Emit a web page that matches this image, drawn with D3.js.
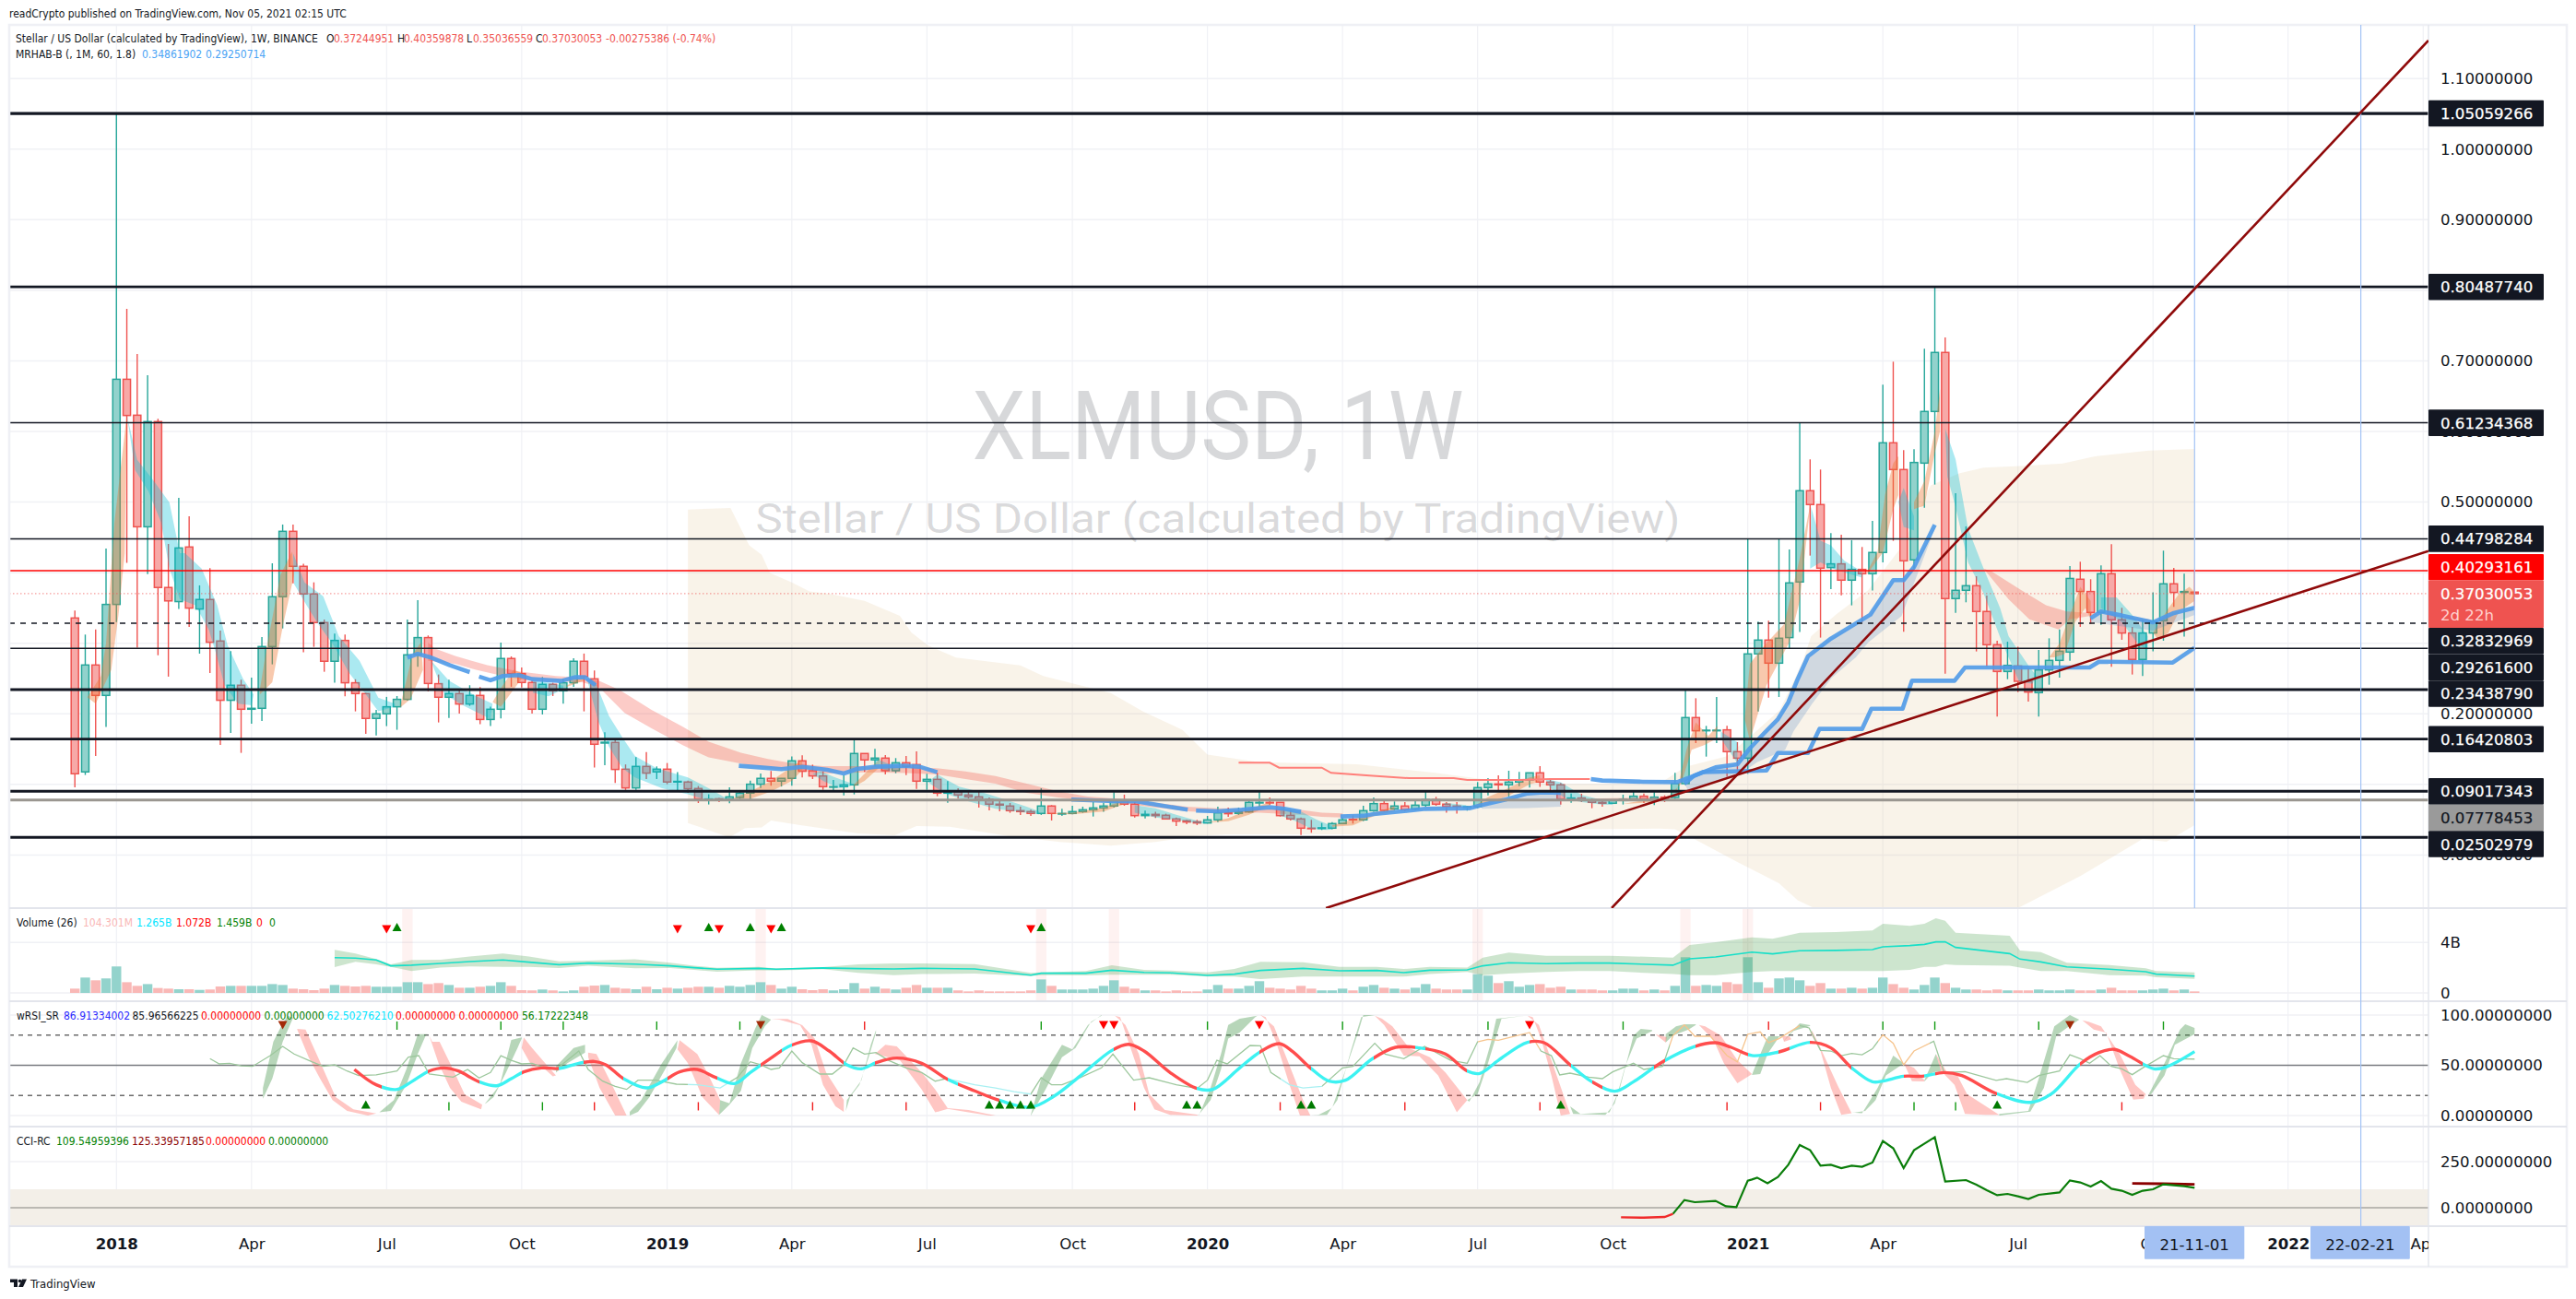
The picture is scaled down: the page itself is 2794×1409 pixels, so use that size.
<!DOCTYPE html>
<html><head><meta charset="utf-8"><title>XLMUSD</title>
<style>html,body{margin:0;background:#fff;overflow:hidden}svg{display:block}</style>
<script src="https://cdn.jsdelivr.net/npm/d3@7/dist/d3.min.js"></script></head><body>
<script>
/* ---------- weekly candles, index 0 = 2017-12-04 ---------- */
const open=[.3358,.1177,.2692,.2261,.3550,.6740,.6231,.4650,.6140,.3790,
.3590,.4364,.3485,.3620,.3032,.2192,.2405,.2065,.2078,.2953,
.3659,.4586,.4090,.3698,.3293,.2745,.3040,.2440,.2287,.1935,
.2000,.2100,.2205,.2836,.3080,.2427,.2235,.2287,.2139,.2261,
.1920,.2065,.2784,.2570,.2444,.2065,.2418,.2326,.2440,.2745,
.2496,.1586,.1595,.1216,.0950,.1255,.1177,.1216,.1034,.1034,
.0942,.0790,.0796,.0794,.0816,.0877,.1003,.1086,.1047,.1086,
.1334,.1194,.1120,.0966,.0968,.0994,.1438,.1347,.1373,.1194,
.1307,.1281,.1046,.1072,.0876,.0898,.0850,.0824,.0789,.0720,
.0694,.0628,.0615,.0589,.0694,.0580,.0589,.0615,.0641,.0667,
.0694,.0767,.0720,.0558,.0576,.0563,.0511,.0485,.0471,.0454,
.0498,.0598,.0589,.0611,.0737,.0746,.0746,.0563,.0511,.0380,
.0375,.0380,.0445,.0506,.0498,.0628,.0728,.0654,.0694,.0650,
.0706,.0785,.0720,.0694,.0672,.0685,.0955,.1007,.0994,.1033,
.1064,.1164,.1033,.0994,.0794,.0807,.0772,.0746,.0733,.0772,
.0789,.0833,.0789,.0820,.0815,.1011,.1947,.1760,.1760,.1773,
.1464,.1372,.2849,.3045,.2718,.3080,.3868,.5161,.4965,.4072,
.4125,.3894,.4046,.3985,.4286,.5840,.5461,.4181,.5552,.6284,
.7120,.3633,.3750,.3815,.3450,.2979,.2600,.2678,.2461,.2300,
.2622,.2757,.2875,.3907,.3733,.3437,.3985,.3332,.3145,.2771,
.3145,.3319,.3842,.3720,.37244951];
const close=[.1151,.2692,.2261,.3550,.6740,.6227,.4650,.6140,.3790,.3600,
.4350,.3498,.3620,.3014,.2192,.2405,.2065,.2078,.2953,.3659,
.4586,.4090,.3698,.3293,.2745,.3040,.2440,.2287,.1935,.2000,
.2100,.2205,.2836,.3080,.2430,.2235,.2287,.2139,.2261,.1920,
.2065,.2784,.2570,.2444,.2065,.2418,.2326,.2440,.2745,.2527,
.1569,.1598,.1212,.0950,.1255,.1160,.1216,.1034,.1043,.0938,
.0794,.0794,.0790,.0824,.0877,.1003,.1086,.1047,.1086,.1334,
.1186,.1120,.0968,.0968,.0994,.1438,.1347,.1373,.1194,.1307,
.1255,.1046,.1072,.0876,.0898,.0850,.0824,.0789,.0720,.0707,
.0628,.0615,.0589,.0694,.0589,.0589,.0615,.0641,.0667,.0694,
.0767,.0720,.0558,.0576,.0558,.0511,.0480,.0467,.0454,.0498,
.0598,.0585,.0611,.0746,.0746,.0737,.0558,.0511,.0380,.0375,
.0385,.0445,.0498,.0498,.0628,.0728,.0632,.0694,.0641,.0706,
.0785,.0720,.0685,.0685,.0685,.0955,.1007,.0994,.1033,.1064,
.1164,.1033,.0994,.0794,.0807,.0772,.0746,.0733,.0772,.0789,
.0833,.0789,.0820,.0802,.1011,.1947,.1760,.1768,.1768,.1464,
.1372,.2849,.3045,.2718,.3071,.3855,.5161,.4965,.4064,.4125,
.3894,.4046,.3985,.4286,.5840,.5461,.4168,.5561,.6284,.7120,
.3633,.3750,.3815,.3450,.2979,.2600,.2687,.2461,.2308,.2622,
.2757,.2887,.3918,.3733,.3437,.3985,.3332,.3145,.2771,.3145,
.3310,.3842,.3720,.3733,.37030053];
const high=[.3463,.3123,.3197,.4342,1.0505,.7738,.7098,.6797,.6180,.4407,
.5060,.4799,.3820,.4064,.3180,.2890,.2483,.2514,.3088,.4133,
.4682,.4682,.4125,.3863,.3336,.3136,.3123,.2490,.2296,.2056,
.2240,.2252,.3337,.3610,.3110,.2557,.2483,.2340,.2405,.2379,
.2100,.3010,.2814,.2657,.2470,.2522,.2440,.2492,.2788,.2854,
.2614,.1740,.1635,.1283,.1387,.1457,.1255,.1303,.1174,.1055,
.0977,.0860,.0810,.0959,.0920,.1055,.1155,.1190,.1090,.1395,
.1412,.1280,.1185,.1064,.1133,.1643,.1438,.1503,.1416,.1373,
.1403,.1468,.1151,.1164,.1046,.0946,.0902,.0902,.0815,.0785,
.0737,.0685,.0641,.0946,.0706,.0654,.0698,.0685,.0750,.0741,
.0889,.0855,.0750,.0628,.0611,.0585,.0532,.0498,.0498,.0554,
.0685,.0672,.0672,.0785,.0902,.0815,.0746,.0641,.0532,.0498,
.0454,.0467,.0532,.0563,.0698,.0815,.0772,.0759,.0750,.0772,
.0894,.0824,.0750,.0750,.0695,.1033,.1089,.1129,.1194,.1177,
.1164,.1259,.1068,.1020,.0872,.0867,.0800,.0781,.0790,.0855,
.0902,.0872,.0889,.0845,.1164,.2348,.2221,.1829,.2239,.1829,
.1599,.4482,.3306,.3319,.4482,.4329,.6118,.5605,.5461,.4560,
.4538,.4460,.4364,.4734,.6663,.6989,.5735,.5748,.7172,.8043,
.7333,.5126,.4656,.3950,.3676,.3035,.3022,.2950,.2643,.2905,
.3070,.3197,.4094,.4155,.3907,.4103,.4403,.3502,.3230,.3332,
.3720,.4312,.4068,.3985,.40359878];
const low=[.0960,.1134,.1404,.1813,.3300,.4138,.2936,.3980,.2830,.2527,
.3485,.3232,.2853,.2579,.1560,.1730,.1447,.1860,.1900,.2701,
.3210,.3850,.2871,.2949,.2596,.2440,.2250,.2035,.1717,.1695,
.1826,.1774,.2187,.2666,.2318,.1878,.1940,.2004,.2113,.1852,
.1826,.1935,.2384,.2374,.2004,.1991,.2253,.2144,.2383,.2035,
.1238,.1273,.1020,.0922,.0922,.1077,.1077,.1003,.0920,.0880,
.0737,.0716,.0750,.0733,.0794,.0790,.0950,.0980,.0970,.0980,
.1100,.1076,.0924,.0902,.0846,.0859,.1177,.1251,.1142,.1159,
.1133,.0937,.0924,.0833,.0741,.0802,.0802,.0672,.0633,.0620,
.0598,.0568,.0554,.0568,.0489,.0554,.0576,.0598,.0545,.0611,
.0672,.0698,.0532,.0519,.0524,.0502,.0410,.0437,.0424,.0446,
.0467,.0541,.0568,.0598,.0685,.0706,.0545,.0489,.0284,.0315,
.0354,.0363,.0437,.0445,.0480,.0611,.0611,.0637,.0620,.0633,
.0685,.0698,.0598,.0585,.0628,.0663,.0846,.0902,.0829,.0976,
.0955,.0964,.0915,.0715,.0741,.0750,.0663,.0685,.0724,.0715,
.0772,.0737,.0706,.0750,.0794,.0990,.1586,.1394,.1586,.1110,
.1185,.1150,.2034,.2230,.2239,.2927,.3158,.4242,.3080,.3767,
.3680,.3537,.3297,.3746,.4146,.4451,.3162,.4059,.4921,.5248,
.2570,.3432,.3580,.2884,.2665,.1960,.2491,.2308,.2173,.1960,
.2413,.2513,.2752,.3232,.3275,.3262,.2666,.3049,.2557,.2535,
.2884,.3036,.3515,.3093,.35036559];
const volume=[.34,1.22,1.0,1.15,2.1,.85,.56,.7,.39,.34,
.29,.29,.24,.27,.51,.56,.56,.56,.56,.7,
.63,.34,.29,.22,.34,.63,.56,.51,.56,.49,
.49,.49,.85,.85,.7,.78,.63,.41,.41,.49,
.56,.85,.56,.22,.2,.27,.2,.12,.2,.49,
.58,.63,.41,.34,.29,.49,.29,.41,.34,.41,
.49,.49,.41,.56,.49,.63,.85,.63,.34,.49,
.29,.22,.29,.2,.29,.78,.34,.49,.34,.27,
.41,.63,.41,.41,.41,.2,.12,.2,.12,.12,
.12,.12,.2,1.07,.56,.27,.27,.27,.34,.56,
1.0,.49,.34,.2,.2,.12,.2,.12,.12,.27,
.63,.34,.34,.56,.93,.41,.34,.27,.56,.34,
.2,.2,.34,.2,.49,.63,.41,.34,.27,.41,
.7,.34,.27,.27,.27,1.49,1.37,.78,.93,.49,
.63,.7,.41,.49,.27,.27,.27,.2,.2,.34,
.34,.2,.27,.2,.56,2.83,.56,.63,.56,.85,
.7,2.83,.85,.41,1.15,1.22,1.0,.56,.78,.34,
.34,.41,.34,.41,1.22,.7,.41,.27,.63,1.22,
.78,.41,.27,.27,.2,.27,.2,.2,.2,.27,
.2,.2,.27,.2,.2,.27,.41,.2,.2,.2,
.27,.34,.2,.27,.12];

/* ---------- price levels ---------- */
const levelValues=[1.05059266,.8048774,.61234368,.44798284,.40293161,.32832969,.292616,.2343879,.16420803,.09017343,.07778453,.02502979];
const levelWidths=[3.2,2.8,1.5,1.5,1.5,1.5,1.5,3,2.8,3,3,3];
const levelColors=['#131722','#131722','#131722','#131722','#ff0000','#131722','#131722','#131722','#131722','#131722','#9a9690','#131722'];
const priceTicks=[0,.1,.2,.3,.4,.5,.6,.7,.8,.9,1,1.1];
const priceTickLabels=[0,.1,.2,.5,.6,.7,.9,1,1.1];
const lastPrice=.37030053;
const trendSteep=[[147.9,-.0752],[226.5,1.1539]];
const trendShallow=[[120.4,-.0752],[226.5,.4306]];

/* ---------- time axis ---------- */
const timeTickIdx=[4,17,30,43,57,69,82,96,109,122,135,148,161,174,187,200,213,226];
const timeTickText=['2018','Apr','Jul','Oct','2019','Apr','Jul','Oct','2020','Apr','Jul','Oct','2021','Apr','Jul','Oct','2022','Apr'];
const markerLines=[204,220];

/* ---------- cloud around price ---------- */
const cloudUpper=[[59,.4894],[63.1,.4917],[64.9,.4386],[66.1,.4255],[66.9,.3994],[69,.3863],[70.7,.3733],[72.7,.3698],[76,.36],[79.4,.3387],[80.5,.3153],[82.1,.297],[84.8,.2796],[91,.2687],[93.2,.2535],[99.7,.2295],[102.8,.2034],[106.6,.1773],[109,.1424],[114,.1316],[123.4,.1285],[130.9,.1163],[135.9,.1067],[142,.101],[152.5,.101],[155,.125],[159,.14],[161.3,.1686],[164.1,.2056],[165.5,.2491],[166.3,.2753],[167.1,.31],[169.5,.3409],[172.6,.3755],[175.8,.4364],[178.6,.5235],[181.4,.5409],[183.7,.5487],[187.7,.5513],[191.3,.5548],[194.4,.5648],[199.6,.5731],[204,.5752]];
const cloudLower=[[59,.0454],[63,.0249],[64.5,.038],[66.1,.039],[67,.0489],[69.8,.0423],[75.4,.0306],[78.9,.028],[81,.041],[84.2,.0401],[89.8,.027],[94.8,.0184],[99.7,.0132],[104,.0184],[107.8,.027],[110.9,.0293],[117.2,.0293],[123.4,.0293],[134.6,.0314],[142,.0358],[152.5,.0375],[154,.0366],[155.3,.027],[160,-.01],[164,-.04],[165.8,-.064],[167.4,-.0752],[172,-.1],[180,-.11],[187,-.0752],[193,-.03],[199,.0227],[201.3,.0188],[204,.0423]];

/* ---------- ribbons: each entry is [upper edge, lower edge] ---------- */
const ribbonOrange=[
[[[1.2,.2235],[2.5,.2536],[3,.3],[3.8,.47],[5,.6237]],[[2,.2144],[3.5,.2622],[4.2,.3406],[4.8,.4277],[5,.6237]]],
[[[17.8,.234],[18.5,.2971],[19.8,.3972],[20.9,.4299]],[[17.8,.2274],[19,.2448],[20,.3232],[21.1,.3972]]],
[[[31.5,.223],[32.5,.284],[33.3,.3014]],[[31.3,.2087],[32.3,.2209],[33.5,.2623]]],
[[[40.2,.2166],[41,.2362],[42.2,.2623],[43,.258]],[[41,.21],[42.2,.234],[43.2,.2536]]],
[[[47.3,.24],[49,.2536]],[[47.3,.238],[49,.247]]],
[[[63.2,.0794],[65,.09],[67,.105],[69,.125],[70,.135]],[[63.2,.0794],[65,.0794],[67,.09],[69,.105],[70,.12]]],
[[[75,.1],[76,.115],[77.5,.137]],[[75,.097],[76,.105],[77.5,.125]]],
[[[93,.0585],[96,.0598],[99,.0672],[101,.078]],[[93,.0585],[96,.0576],[99,.0615],[101,.072]]],
[[[109,.046],[111,.052],[113,.065],[115,.075]],[[109,.046],[111,.048],[113,.057],[115,.07]]],
[[[121,.042],[123,.05],[125,.06],[127,.069]],[[121,.04],[123,.042],[125,.055],[127,.062]]],
[[[134.5,.0672],[136,.082],[138,.095],[140,.11],[141,.113]],[[134.5,.0672],[136,.0715],[138,.084],[140,.1],[141,.104]]],
[[[149,.0725],[151,.0775],[153,.08],[154.2,.0924],[155.1,.149],[156,.1881],[157.2,.1686],[158.1,.183]],[[149,.0725],[151,.074],[153,.078],[154.6,.101],[155.6,.149],[156.8,.1555],[157.9,.1642]]],
[[[160.7,.1925],[161.2,.2709],[162.6,.297],[164.5,.327],[166,.42],[167,.4952]],[[161.2,.162],[162.8,.2404],[163.9,.271],[165,.3013],[166,.36],[167,.493]]],
[[[172.5,.4016],[173.5,.43],[174.2,.51],[175,.555],[175.5,.565]],[[172.5,.398],[174,.4286],[175,.49],[175.5,.51]]],
[[[177,.5],[178,.53],[179,.6],[179.5,.66]],[[177,.49],[178,.495],[179,.57],[179.5,.6]]],
[[[190,.28],[191,.3],[192,.34],[193,.38],[194,.36]],[[190.5,.28],[191.5,.285],[192.5,.33],[193.5,.35],[194,.335]]],
[[[200,.315],[201.5,.35],[202.5,.37],[203.5,.38],[204,.3725]],[[200.5,.305],[201.5,.315],[202.5,.345],[203.5,.355],[204,.36]]]
];
const ribbonCyan=[
[[[5,.6237],[6,.56],[7.6,.53],[9.1,.4995],[10.1,.4277],[10.6,.4277],[12.2,.4059],[13.7,.3537],[14.7,.2971],[16.2,.2492],[17.2,.2274]],[[5,.6237],[5.8,.5452],[7.1,.5148],[8.3,.4712],[9.1,.4059],[10.1,.3624],[11.6,.3537],[12.9,.3189],[13.7,.2797],[14.4,.2405],[15.7,.2144],[17,.2122]]],
[[[21,.4277],[22.1,.3863],[23.9,.3667],[25.4,.31],[27.4,.2753],[29.2,.223],[30.8,.2144]],[[21.1,.384],[22.3,.3537],[23.4,.3276],[24.9,.2971],[26.4,.2579],[28,.2274],[29.2,.2035],[30.8,.21]]],
[[[34.3,.2753],[36,.247],[38.6,.2253],[40.2,.2144]],[[34.6,.2623],[35.6,.2274],[37.6,.21],[40,.1926]]],
[[[44.1,.247],[45.6,.244],[47,.24]],[[44.1,.2296],[45.6,.2248],[47,.235]]],
[[[49.3,.2492],[50.1,.245],[51.4,.197],[52.7,.1665],[53.9,.1404],[56,.123],[59,.11],[61,.0947],[62.8,.0794]],[[49.6,.2318],[50.4,.1883],[51.4,.1534],[52.7,.123],[53.9,.11],[56.5,.0947],[59,.086],[61,.0772],[62.8,.0794]]],
[[[71.8,.1185],[73,.111],[75,.1]],[[71,.115],[72,.105],[73.5,.095],[74.5,.097]]],
[[[77,.137],[78.5,.128]],[[77,.125],[78.5,.1185]]],
[[[83,.1142],[85.1,.0968],[87.5,.0881],[89.8,.0772],[91.6,.0685],[92.8,.062]],[[82.1,.1033],[83.6,.0881],[85.7,.0772],[88.6,.0654],[91.6,.0598],[92.8,.0576]]],
[[[102,.0706],[104,.066],[106,.057],[108,.0485],[109,.0467]],[[102,.06],[104,.0532],[106,.05],[108,.045],[109,.0446]]],
[[[116,.0676],[118,.0615],[119.5,.05],[121,.041]],[[116,.056],[117.5,.048],[119,.037],[120.5,.0354],[121,.036]]],
[[[131.8,.074],[133.9,.0706]],[[131.8,.07],[133.9,.0672]]],
[[[141.5,.108],[143,.103],[145,.085],[147,.078],[148,.0745]],[[142,.095],[143.5,.08],[145,.075],[147,.0715],[148,.071]]],
[[[158.4,.175],[160,.16]],[[158.4,.165],[160,.13]]],
[[[167.1,.493],[168,.4452],[169,.4386],[170.3,.4168],[172,.4016]],[[167,.4059],[168,.4146],[169.5,.4037],[172,.3929]]],
[[[175.5,.5],[176,.52],[177,.48]],[[176,.465],[177,.46]]],
[[[180,.604],[181,.5605],[182.2,.4625],[183.7,.4059],[185.3,.3494],[186.1,.31],[188.1,.2665],[188.8,.2535]],[[180.2,.5365],[181,.493],[182.2,.4146],[183.7,.3705],[185.5,.3],[187.1,.246],[188.4,.2426]]],
[[[195,.365],[196.5,.365],[198,.34],[199.5,.31]],[[195,.35],[197,.33],[198.5,.3],[199.5,.29]]]
];
const ribbonPink=[
[[[34,.3014],[34.6,.2927],[36.6,.2819],[39.7,.2688],[42.7,.26],[46.3,.2536],[48.8,.2514],[50.4,.247],[52.4,.234],[55.5,.2057],[58.5,.1817],[61,.1604],[64.1,.1447],[66.7,.136],[69.2,.1295],[72,.126],[76,.126],[80,.125],[82.9,.1229],[85.7,.1185],[88.6,.112],[91.6,.1011],[94.6,.0902],[97.5,.0828],[100.5,.0794],[103.4,.075],[107,.0685],[110,.066],[114,.066],[118,.064],[120,.06],[122,.059]],
 [[34,.2753],[36.6,.2709],[38.6,.2623],[41.2,.2536],[43.7,.247],[48.8,.2449],[50.4,.2383],[52.9,.2013],[55.5,.1796],[58.5,.1556],[61,.1382],[64.1,.1295],[66.7,.123],[69.2,.1208],[72,.115],[76,.117],[80,.116],[82.9,.1142],[85.7,.1077],[88.6,.1011],[91.6,.0881],[94.6,.0815],[97.5,.0772],[100.5,.0737],[103.4,.0685],[107,.062],[110,.06],[114,.06],[118,.057],[120,.054],[122,.053]]],
[[[146,.08],[149,.081],[153,.0815]],[[146,.077],[149,.0775],[153,.078]]],
[[[183.7,.4059],[184.5,.4016],[187.3,.3754],[189.7,.3537],[191.7,.345],[195.6,.3415],[199.6,.334]],[[183.7,.4059],[186.1,.3624],[188.1,.334],[190.9,.3197],[192,.334],[195.6,.3428],[199.6,.329]]]
];
const ribbonBlue=[
[[[154.9,.1011],[155.8,.112],[157.9,.1241],[160,.1285],[161.2,.1511],[162.6,.1729],[163.9,.1925],[164.9,.2164],[165.8,.2491],[166.8,.2817],[169,.3066],[172.8,.3406],[175,.3894],[176,.3894],[177,.4081],[179,.4677]],
 [[155.3,.0902],[160.2,.1141],[161.9,.1315],[164.6,.149],[165.4,.1751],[167.2,.2143],[169.1,.2513],[171.4,.28],[172.6,.3014],[175.8,.3384],[179,.4625]]],
[[[135.4,.0706],[137.7,.0785],[139.8,.0872],[141.3,.0889],[143,.088]],[[135.4,.0654],[139.8,.0664],[143,.0685]]],
[[[194,.3354],[195,.345],[197,.3393],[200,.3297],[202,.3428],[204,.3502]],[[194,.33],[198,.322],[200,.318],[204,.34]]]
];

/* ---------- thick blue lines and the thin red step ---------- */
const blueLines=[
[[32,.2797],[33,.2849],[34.3,.2797],[36.1,.2688],[38,.2592]],
[[38.9,.2527],[40,.2475],[41.2,.2536],[42.7,.2549],[44,.2492],[46.8,.2466],[48.1,.2518],[49.1,.2518],[50.1,.2405]],
[[63.9,.1264],[66.2,.1238],[68,.1216],[70,.125],[72.4,.1207],[74,.1155],[75.3,.122],[77.1,.1251],[79.8,.1264],[81.3,.1251],[83,.1172]],
[[95.9,.0785],[100,.0763],[102.2,.0759],[104.3,.0706],[107.1,.0641]],
[[107.9,.0628],[110,.062],[112.3,.0641],[115,.0676],[116.4,.0654],[118,.0611]],
[[121.8,.0546],[124,.0555],[125,.058],[127.7,.062],[130,.0654],[134.2,.0663],[135.4,.0706],[137.7,.0785],[139.8,.0872],[141.3,.0889],[143,.088]],
[[145.9,.1077],[147,.1055],[150.9,.1038],[154.2,.1032],[155.8,.112],[156.7,.1176],[159.5,.1185],[162.8,.1198],[163.9,.1446],[166.8,.1446],[167.9,.1786],[172,.1786],[172.9,.2073],[175.9,.2073],[176.8,.2469],[180.9,.2469],[181.9,.2656],[193.9,.2656],[194.8,.2739],[201.9,.2726],[204,.2935]],
[[154.9,.1011],[155.8,.112],[157.9,.1241],[160,.1285],[161.2,.1511],[162.6,.1729],[163.9,.1925],[164.9,.2164],[165.8,.2491],[166.8,.2817],[169,.3066],[172.8,.3406],[175,.3894],[176,.3894],[177,.4081],[179,.4677]],
[[194,.3354],[195,.345],[197,.3393],[200,.3297],[202,.3428],[204,.3502]]
];
const redStep=[[112,.1307],[115,.1307],[115.9,.1237],[120,.1237],[120.9,.1163],[124.6,.1124],[128.4,.1089],[132.7,.1089],[134,.1063],[139,.1063],[142,.1076],[145.8,.1076]];

/* ---------- volume pane ---------- */
const volBandIdx=[25,27,29,30.4,32.4,35.2,38,41.2,43.7,46.6,49.4,53.9,57.3,59.6,61.8,65.8,67.5,72,75.4,78.8,81.5,86.6,92,93,97.3,99.8,102.9,105.4,109,111.6,114.1,118.2,121.7,125.3,127.9,130.4,134,135.5,138,141.6,144.7,147.7,153.8,155.4,157.9,161.4,163.4,166,169.5,173,174,176.6,178,179.1,180,181,186.2,187.2,189.2,191.7,195.8,199.3,200.3,204];
const volLine=[2.8,2.76,2.61,2.15,2.2,2.34,2.49,2.61,2.44,2.24,2.37,2.29,2.15,2,1.88,1.95,1.88,1.98,1.93,1.9,1.95,1.9,1.41,1.56,1.56,1.8,1.63,1.59,1.39,1.49,1.78,1.95,1.76,1.78,1.61,1.8,1.83,2.15,2.39,2.32,2.37,2.37,2.2,2.71,2.85,3.24,3.1,3.34,3.37,3.44,3.66,3.76,3.85,4.05,4.05,3.61,3.12,2.68,2.46,2.07,1.88,1.68,1.49,1.34];
const volTop=[3.41,3.12,2.68,2.27,2.61,2.63,2.88,3.12,2.88,2.51,2.56,2.66,2.39,2.15,2,2.07,1.93,2.05,2.27,2.34,2.34,2.29,1.59,1.63,1.73,2.2,1.83,1.78,1.63,1.9,2.46,2.44,2.07,2.07,1.9,2.07,2.02,2.8,3.2,2.95,2.95,2.95,2.8,3.8,4.02,4.41,4.29,4.78,4.83,4.95,5.49,5.32,5.49,5.93,5.73,4.78,4.54,3.37,3.24,2.39,2.22,1.95,1.73,1.63];
const volBottom=[2.05,2.46,2.27,2.07,1.73,2.02,2.1,2.07,2.07,1.98,2.15,1.95,1.98,1.83,1.68,1.8,1.78,1.88,1.59,1.41,1.49,1.54,1.34,1.41,1.39,1.44,1.44,1.44,1.29,1.29,1.1,1.29,1.29,1.29,1.29,1.49,1.66,1.41,1.54,1.66,1.73,1.73,1.49,1.41,1.41,1.66,1.73,1.73,1.73,1.73,1.73,1.83,2.07,2.07,2.27,2.22,2.15,2.02,1.73,1.73,1.41,1.37,1.24,1.12];
const volHighlights=[32,66,93,100,135,155,161];
const volDown=[30,58,62,67,92];
const volUp=[31,61,65,68,93];

/* ---------- wRSI pane ---------- */
const rsiMain=[[26.9,45.9],[29,30.6],[31,26],[32.4,33.6],[34.1,44.3],[35.5,47.4],[36.9,44.3],[38.9,33.6],[40.6,29.6],[42,36.7],[43.2,43.4],[44.9,47.4],[46.6,46.8],[48.5,52],[50,53.8],[51.1,50.5],[52.8,36.7],[55,27.5],[56.5,33.6],[58.2,43.4],[59.9,45.9],[61.6,38.2],[63.5,31.8],[65,42.8],[66.9,56.6],[68.9,69.7],[70.9,74.3],[72.6,64.2],[74.3,50.5],[75.7,46.5],[77.1,52.6],[79.1,57.2],[81.5,52],[84,36],[86.6,24.5],[89.1,14.7],[92,8.3],[94.2,19],[96.8,39.8],[99.8,64.8],[101.4,70.9],[102.9,64.2],[105.4,42.8],[108,26.9],[109.5,26],[112.1,47.4],[114.1,63.6],[115.9,71.5],[117.2,63.6],[118.9,47.4],[120.7,34.3],[122.3,35.2],[124.8,56],[127.1,67.9],[129.4,67.3],[131.9,61.2],[134,44.3],[135.2,41.9],[137,55],[139.8,72.8],[141.4,72.5],[143.9,50.5],[145.9,34.3],[148.2,24.2],[150,33.6],[152.8,53.5],[155.9,68.8],[157.9,72.5],[159.4,67.9],[161.4,59.7],[164,63.3],[167,72.8],[169,67.3],[171,47.4],[173,33.6],[174,34.3],[176,39.1],[177.8,39.1],[179.9,42.8],[181.6,39.8],[184.9,22],[188.2,13.1],[190.2,21.4],[193,51.4],[194.8,62.7],[196.3,65.8],[197.8,58.7],[200.1,46.5],[201.4,48.9],[204,63.6]];
const rsiMainBreaks=[29.5,34,38.9,43,46.6,49,52.8,57,61.8,66,68,69,74,77,84,85,89,100,108,114,119,125,129,130,134,140,144,146,147,152,153,156,161,164,165,167,171,176,178,179,185,193,199];
const rsiThin=[[13,56.6],[13.9,51.4],[14.9,52],[16,49.5],[17.1,48.9],[18.8,59.6],[20,68.8],[21.1,61.2],[22.8,53.5],[23.9,48.9],[25,50.5],[26.2,44.3],[27.3,39.8],[29,40.4],[31,44.3],[32.1,58.1],[33.1,59.6],[34.1,41.3],[36.4,38.2],[37.8,45.9],[38.9,37.3],[40,42.8],[41,59.6],[42,55],[43,51.4],[44,52],[45.2,47.4],[46.3,45.9],[47.4,55],[48.5,64.2],[49.4,45.9],[50.8,34.2],[52,29],[53.1,26],[54.2,35.2],[55.9,35.2],[57.9,31.2],[59.9,30.6],[62.1,27.5],[63.8,38.2],[65,53.5],[66,50.5],[67,45.9],[67.8,47.4],[69,64.2],[70,52.6],[71.7,41.3],[72.9,41.3],[74,50.5],[74.9,67.3],[76,61.2],[77.1,62.7],[78.3,55],[80,47.4],[81.5,42.8],[82.8,34.2],[83.8,36.7],[85.3,33.6],[86.6,30.6],[88.6,27.5],[90.4,23.8],[92,21.4],[93,37.6],[94,30.6],[95,30.6],[96.8,37.9],[98.8,47.4],[99.9,61.2],[101.9,35.2],[103.4,37.6],[106,30.6],[108,26.9],[109,35.2],[109.9,55],[110.9,51.4],[113.1,69.7],[114.1,69.4],[115.1,42.8],[116.9,30.6],[118.2,27.5],[120,29],[122,47.4],[123,48.9],[125.1,71.9],[126.1,61.2],[127.9,56.6],[129.9,68.8],[132.4,55],[134,52],[135,73.4],[136,75.8],[137,74.9],[140,82.6],[141.1,64.2],[142.1,59.6],[142.9,40.4],[143.9,42.2],[145.7,38.2],[147,36.7],[148,43.4],[150,52],[151,45.9],[152.8,48.9],[153.8,79.5],[154.9,90.2],[155.9,78.9],[157.4,78.9],[159,59.6],[160,53.5],[161,81],[162.2,83.2],[163,72.5],[164,76.5],[166,89.6],[166.9,87.2],[168,64.8],[169,64.2],[170,59.6],[171,61.8],[172,60.5],[173,66.4],[174,80.4],[175,71.9],[176,50.5],[177,64.2],[178.9,74],[179.9,42.8],[181.9,43.7],[184.9,34.9],[185.9,36.7],[187.9,33],[189,39.8],[191,44.3],[192,60.5],[193,56.6],[193.9,52],[194.9,59.6],[196,48.9],[197,46.5],[198,40.7],[199,47.4],[201,59.6],[202,56.6],[204,56.2]];
const rsiThinOrange=[[135,141],[153.5,166],[173.5,178.5]];
const rsiThinCyan=[[84,92],[116,120],[59,63]];
const rsiGreen=[
[[[18.1,27.5],[19.1,73.4],[20,91.7],[20.5,99.4]],[[18.1,16.8],[19,36.7],[20,73.4],[21,97.2]]],
[[[29.3,3.1],[30.7,15.3],[31.9,45.9],[33,81],[34,81]],[[29.3,3.1],[30.4,4.6],[31.9,30.6],[33,61.2],[33.8,80.4]]],
[[[39.5,12.2],[40.9,30.6],[42,75.2],[43,77.7]],[[39.5,11.6],[40.3,18.3],[41.5,42.8],[42.6,67.3],[43,76.5]]],
[[[46.3,48.9],[48,67.3],[49.1,70.3]],[[46.3,42.8],[47.4,52],[49.1,62.7]]],
[[[53.4,3.7],[54.5,15.3],[56.5,52],[58,74.9]],[[53.4,0],[54.2,3.7],[55.3,18.3],[56.8,45.9],[57.9,67.3]]],
[[[62.1,15.3],[63,12.2],[64.1,52],[65.5,87.2],[66.1,100],[67,95.4]],[[62,.6],[63,10.7],[64.1,24.5],[65.2,67.3],[66.4,88.7]]],
[[[74.3,15.3],[75.7,35.2],[76.6,70.3],[77.1,85]],[[74.2,4.6],[74.6,18.3],[75.5,30.6],[76.4,58.1],[77.1,82.6]]],
[[[92,.6],[93,36.7],[95,70.3],[96,65.8],[97.5,90.2],[98.8,100]],[[92,0],[93.5,27.5],[95,58.1],[96.3,67.3],[97.8,93.3],[98.8,99.4]]],
[[[108.2,.6],[109.3,27.5],[110.3,61.2],[111,90.2],[112.1,96.3],[113.8,99.4]],[[108.1,0],[109.3,15.3],[110.3,45.9],[111,76.5],[112.1,82.6],[113.6,97.9]]],
[[[119.7,.6],[121,7.6],[122.3,45.9],[123.5,82.6],[124,100],[125.1,100]],[[119,0],[120.5,.6],[121.5,15.3],[122.8,64.2],[123.8,97.9]]],
[[[134,15.3],[135,21.4],[136,52],[137.3,96.3],[139.6,99.4]],[[134.2,13.8],[135.2,33.6],[136.3,73.4],[136.8,96.3]]],
[[[143.9,9.2],[144.9,1.5],[147.7,3.1],[148.7,27.5],[150,79.5],[150.7,86.2],[151.8,85]],[[144.2,1.5],[147.3,.6],[148.2,12.2],[149.2,48.9],[150.3,76.5],[151.8,84.1]]],
[[[153.1,81],[154.1,88.7],[154.9,90.8],[156,90.8]],[[153.1,72.8],[153.8,79.5],[155.3,85.6],[156,90.2]]],
[[[161.6,45.9],[162.7,73.4],[163,79],[164.2,79]],[[161.4,40.4],[162.2,41.3],[162.9,61.2],[164,78]]],
[[[165,81],[166,91.7],[167,89.9]],[[164.4,73.4],[165.4,84.1],[167,89.2]]],
[[[171,3],[172,2.4],[173.5,27.5],[175,59.6],[176,52]],[[171.3,3],[172.3,4.6],[173.3,15.3],[174.3,39.8],[175.8,50.5]]],
[[[178,35.2],[179.1,61.2]],[[178,34],[178.8,42.8],[179.6,44.3]]],
[[[185.2,1.5],[188,4.6],[189,36.7],[190.5,88.7],[192,100],[192.9,95.4]],[[185.2,0],[188.2,4],[189.5,27.5],[190.7,79.5],[191.7,87.2],[192.9,95.4]]],
[[[199.6,21.4],[200.9,47.4],[202.6,85.6],[203.1,90.8],[204,87.2]],[[199.8,20.8],[201.1,39.8],[202.1,70.3],[204,81]]]
];
const rsiPink=[
[[[21.4,86.2],[22.2,85.6],[23.4,58.1],[25.1,18.3],[26.8,6.1],[29,2.1]],[[21.4,85.6],[22.5,58.1],[23.6,36.7],[24.8,15.3],[26.2,4.6],[28.2,0]]],
[[[34.4,73.4],[35.1,73.4],[36.4,45.9],[37.5,21.4],[39.2,10.7]],[[34.1,79.5],[35,52],[36.1,27.5],[37.2,13.8],[39.1,6.1]]],
[[[43.2,77.7],[44,67.3],[45.4,50.5],[46.3,39.8]],[[43,67.3],[44,48.9],[45.1,47.4],[46,39.1]]],
[[[49.4,62.7],[50.2,61.2],[51.7,30.6],[53.1,0]],[[49.4,58.1],[50.5,27.5],[52,0]]],
[[[58.2,74.9],[59.9,61.2],[61,39.8],[62.1,15.3]],[[58,65.8],[59,52],[60.4,18.3],[62,.6]]],
[[[67,96],[68.6,96],[70,89.9],[71.2,76.5],[72.3,42.8],[74,15.3]],[[67.8,95.4],[69.8,89.9],[70.9,70.3],[72,30.6],[73.2,9.2],[74,3.7]]],
[[[78,70.3],[79.1,68.8],[81.5,42.8],[82.8,26],[84,7.3],[86,5.5],[88.6,0]],[[77,61.2],[79.4,55],[81.5,26],[82.8,3.1],[84,6.7],[86,3.1],[88,0]]],
[[[100.1,99.4],[101.1,90.2],[102.4,61.2],[103.4,21.4],[104.9,5.5],[108.1,.6]],[[100.6,97.9],[101.6,67.3],[102.9,27.5],[103.9,6.1],[105.4,.6],[108,0]]],
[[[114.1,100],[115.4,88.7],[116.7,55],[118.2,15.3],[118.9,0]],[[114.6,97.9],[115.6,73.4],[116.9,30.6],[117.9,0]]],
[[[125.8,96.3],[126.8,88.7],[128.4,67.3],[130.4,58.1],[131.9,42.8],[134,15.3]],[[125.1,99.4],[126,90.2],[127.9,59.6],[129.4,59],[131.2,39.8],[133,3.1]]],
[[[139.8,99.4],[140.9,90.2],[142.1,55],[143.9,1.5]],[[140.3,97.9],[141.1,76.5],[142.1,39.8],[143,0]]],
[[[152.1,81],[153.2,78]],[[152.1,81],[153.1,72.8]]],
[[[156.9,88.7],[158.4,79.5],[160,55],[161.4,41.3]],[[156.3,90.2],[157.7,75.2],[158.7,52],[160,32.1],[161.2,39.8]]],
[[[164.3,79],[165,79]],[[164.3,79],[164.5,73.4],[165.2,76]]],
[[[167.2,84.1],[168,67.3],[169.7,29],[171,2.4]],[[167,82.6],[168,64.2],[169,27.5],[170,.6]]],
[[[176.1,51.4],[177,47.4],[178,35.2]],[[176.1,50.5],[176.8,34.2],[178,34]]],
[[[179.1,61.2],[180.1,44.3],[181.1,41.3],[182.1,21.4],[185.2,.6]],[[179.6,44.3],[180.9,30.6],[181.9,1.5],[183.9,.6]]],
[[[193.8,93.3],[195,88.7],[196.8,61.2],[198.3,30.6],[199.3,21.4]],[[193.2,94.8],[194.3,85.6],[195.5,82.6],[196.8,45.9],[198.1,15.9],[199.1,16.8]]]
];
const rsiTickTopGreen=[31,41,47,56,64,93,109,122,136,149,174,179,189,201];
const rsiTickTopRed=[76,163];
const rsiTickBottomGreen=[36,45,177,181];
const rsiTickBottomRed=[50,60,71,80,102,116,128,141,159,168,197];
const rsiTriUp=[28,88,89,90,91,92,107,108,118,119,143,185];
const rsiTriDown=[99,100,114,140];
const rsiTriDownDark=[20,66,192];

/* ---------- CCI pane ---------- */
const cciRed=[[148.8,-52],[151,-54],[153,-50],[153.8,-33]];
const cciGreen=[[153.8,-33],[154.9,42],[155.9,30],[157.9,37],[158.9,8],[159.9,3],[161,147],[161.4,153],[161.9,163],[162.9,133],[163.9,167],[164.9,233],[166,340],[167,312],[168,228],[169,233],[170,215],[171,228],[172,222],[173,245],[174,362],[175,322],[176,215],[177,312],[179,383],[180,142],[182,150],[183,125],[184,95],[185,68],[186,75],[187,62],[188,47],[189,70],[191,83],[192,148],[193,137],[194,115],[195,145],[196,103],[197,92],[198,70],[199,92],[200,100],[201,127],[203,117],[204,108]];
const cciSignal=[[198,132],[201,130],[204,127]];

/* ---------- texts ---------- */
const headerText='readCrypto published on TradingView.com, Nov 05, 2021 02:15 UTC';
const mainLegend=[['Stellar / US Dollar (calculated by TradingView), 1W, BINANCE',17,'#131722'],['O',354,'#131722'],['0.37244951',362,'#ef5350'],['H',431,'#131722'],['0.40359878',438,'#ef5350'],['L',506,'#131722'],['0.35036559',513,'#ef5350'],['C',581,'#131722'],['0.37030053',588,'#ef5350'],['-0.00275386 (-0.74%)',657,'#ef5350']];
const bandLegend=[['MRHAB-B (, 1M, 60, 1.8)',17,'#131722'],['0.34861902',154,'#4aa3f5'],['0.29250714',223,'#4aa3f5']];
const volLegend=[['Volume (26)',18,'#131722'],['104.301M',90,'#f9b6b5'],['1.265B',148,'#00e5ff'],['1.072B',191,'#ff0000'],['1.459B',235,'#008000'],['0',278,'#ff0000'],['0',292,'#008000']];
const rsiLegend=[['wRSI_SR',18,'#131722'],['86.91334002',69,'#2a2aff'],['85.96566225',143.5,'#131722'],['0.00000000',218,'#ff0000'],['0.00000000',286.4,'#008000'],['62.50276210',354.6,'#00e5ff'],['0.00000000',429,'#ff0000'],['0.00000000',497.4,'#ff0000'],['56.17222348',566,'#008000']];
const cciLegend=[['CCI-RC',18,'#131722'],['109.54959396',61,'#008000'],['125.33957185',143,'#8b0000'],['0.00000000',223,'#ff0000'],['0.00000000',291,'#008000']];

/* ---------- layout ---------- */
const W=2794,H=1409,left=10,paneRight=2634,frameRight=2784,top0=27;
const mainBottom=985,volBottom0=1086,rsiBottom=1222,cciBottom=1330,frameBottom=1374;
const AXF='"DejaVu Sans",sans-serif',LGF='"DejaVu Sans Condensed","DejaVu Sans",sans-serif',INK='#131722';
const GRID='#f0f1f5',SEP='#e3e5ec';

const x=d3.scaleLinear().domain([0,204]).range([81.2,2380.3]);
const y=d3.scaleLinear().domain([0,1.1]).range([927.4,85.24]);
const yVol=d3.scaleLinear().domain([0,4]).range([1077,1022.3]);
const yRsi=d3.scaleLinear().domain([0,100]).range([1210,1101]);
const yCci=d3.scaleLinear().domain([0,250]).range([1310,1260]);

const svg=d3.select('body').append('svg').attr('width',W).attr('height',H).attr('viewBox',`0 0 ${W} ${H}`);
const defs=svg.append('defs');
function clip(id,x0,y0,x1,y1){defs.append('clipPath').attr('id',id).append('rect').attr('x',x0).attr('y',y0).attr('width',x1-x0).attr('height',y1-y0);}
clip('cMain',left,top0,paneRight,mainBottom);
clip('cVol',left,mainBottom,paneRight,volBottom0);
clip('cRsi',left,volBottom0,paneRight,rsiBottom);
clip('cTime',left,cciBottom,paneRight,frameBottom);

svg.append('rect').attr('width',W).attr('height',H).attr('fill','#fff');

/* grid */
const grid=svg.append('g');
grid.selectAll('line.v').data(timeTickIdx).join('line').attr('x1',d=>x(d)).attr('x2',d=>x(d)).attr('y1',top0).attr('y2',cciBottom).attr('stroke',GRID).attr('stroke-width',1.2);
grid.selectAll('line.h').data(priceTicks).join('line').attr('x1',left).attr('x2',paneRight).attr('y1',d=>y(d)).attr('y2',d=>y(d)).attr('stroke',GRID).attr('stroke-width',1.5);
[[yVol,[0,4]],[yRsi,[0,100]],[yCci,[250]]].forEach(([s,vals])=>vals.forEach(v=>grid.append('line').attr('x1',left).attr('x2',paneRight).attr('y1',s(v)).attr('y2',s(v)).attr('stroke',GRID).attr('stroke-width',1.5)));

/* main pane */
const main=svg.append('g').attr('clip-path','url(#cMain)');
const lineP=d3.line().x(d=>x(d[0])).y(d=>y(d[1]));
function poly(g,list,fill,scale){
  const ln=d3.line().x(d=>x(d[0])).y(d=>scale(d[1]));
  g.selectAll(null).data(list).join('path').attr('d',r=>ln([...r[0],...[...r[1]].reverse()])+'Z').attr('fill',fill);
}
main.append('path').attr('d',lineP([...cloudUpper,...[...cloudLower].reverse()])+'Z').attr('fill','rgba(225,195,145,.2)');

const idx=d3.range(open.length);
const isUp=i=>close[i]>=open[i];
const cGreen='#26a69a',cRed='#ef5350';
const candles=main.append('g');
candles.selectAll('line').data(idx).join('line').attr('x1',i=>x(i)).attr('x2',i=>x(i)).attr('y1',i=>y(high[i])).attr('y2',i=>y(low[i])).attr('stroke',i=>isUp(i)?cGreen:cRed).attr('stroke-width',1.4);
candles.selectAll('rect.bg').data(idx).join('rect').attr('x',i=>x(i)-4).attr('width',8).attr('y',i=>y(Math.max(open[i],close[i]))).attr('height',i=>Math.max(.6,Math.abs(y(open[i])-y(close[i])))).attr('fill','#fff').attr('stroke','none');
candles.selectAll('rect.b').data(idx).join('rect').attr('x',i=>x(i)-4).attr('width',8).attr('y',i=>y(Math.max(open[i],close[i]))).attr('height',i=>Math.max(.6,Math.abs(y(open[i])-y(close[i])))).attr('fill',i=>isUp(i)?'rgba(38,166,154,.5)':'rgba(239,83,80,.5)').attr('stroke',i=>isUp(i)?cGreen:cRed).attr('stroke-width',1.5);

poly(main.append('g'),ribbonPink,'rgba(244,67,54,.28)',y);
poly(main.append('g'),ribbonOrange,'rgba(238,120,50,.4)',y);
poly(main.append('g'),ribbonCyan,'rgba(0,188,212,.33)',y);
poly(main.append('g'),ribbonBlue,'rgba(66,125,190,.22)',y);
main.append('g').selectAll('path').data(blueLines).join('path').attr('d',lineP).attr('fill','none').attr('stroke','#4f9ae8').attr('stroke-opacity',.9).attr('stroke-width',4.6).attr('stroke-linejoin','round');
main.append('path').attr('d',lineP(redStep)).attr('fill','none').attr('stroke','#ff7f7a').attr('stroke-width',2);

/* watermark */
svg.append('text').attr('x',1321).attr('y',498).attr('text-anchor','middle').attr('font-family','Roboto,sans-serif').attr('font-size',103).attr('fill','#131722').attr('fill-opacity',.17).attr('textLength',533).attr('lengthAdjust','spacingAndGlyphs').text('XLMUSD, 1W');
svg.append('text').attr('x',1321).attr('y',578).attr('text-anchor','middle').attr('font-family','Roboto,sans-serif').attr('font-size',44).attr('fill','#131722').attr('fill-opacity',.17).attr('textLength',1003).attr('lengthAdjust','spacingAndGlyphs').text('Stellar / US Dollar (calculated by TradingView)');

/* levels */
const lv=svg.append('g');
lv.selectAll('line').data(levelValues).join('line').attr('x1',left).attr('x2',paneRight).attr('y1',d=>y(d)).attr('y2',d=>y(d)).attr('stroke',(d,i)=>levelColors[i]).attr('stroke-width',(d,i)=>levelWidths[i]).attr('stroke-dasharray',(d,i)=>i===5?'6 6':null);
lv.append('line').attr('x1',left).attr('x2',paneRight).attr('y1',y(lastPrice)).attr('y2',y(lastPrice)).attr('stroke','#ef5350').attr('stroke-opacity',.7).attr('stroke-width',1).attr('stroke-dasharray','1.5 2.5');

/* trend lines */
main.raise();
const trends=svg.append('g').attr('clip-path','url(#cMain)');
trends.selectAll('path').data([trendSteep,trendShallow]).join('path').attr('d',lineP).attr('fill','none').attr('stroke','#8f0a0a').attr('stroke-width',2.6);
lv.raise();trends.raise();

/* volume pane */
const vol=svg.append('g').attr('clip-path','url(#cVol)');
vol.selectAll('rect.hl').data(volHighlights).join('rect').attr('x',d=>x(d)-5.6).attr('width',11.27).attr('y',mainBottom).attr('height',volBottom0-mainBottom).attr('fill','rgba(239,83,80,.08)');
vol.selectAll('rect.v').data(idx).join('rect').attr('x',i=>x(i)-5.2).attr('width',10.4).attr('y',i=>yVol(volume[i])).attr('height',i=>yVol(0)-yVol(volume[i])).attr('fill',i=>isUp(i)?'#93d3cc':'#f9b8b6');
const volPts=volBandIdx.map((d,i)=>i);
vol.append('path').attr('d',d3.area().x(i=>x(volBandIdx[i])).y0(i=>yVol(volBottom[i])).y1(i=>yVol(volTop[i]))(volPts)).attr('fill','rgba(76,160,80,.28)');
vol.append('path').attr('d',d3.line().x(i=>x(volBandIdx[i])).y(i=>yVol(volLine[i]))(volPts)).attr('fill','none').attr('stroke','#16dfc8').attr('stroke-width',1.6);
const tri=(g,data,px,py,down,fill)=>g.append('g').selectAll('path').data(data).join('path').attr('d',d=>{const X=x(d)+0,Y=py;return down?`M${X-5},${Y-4.5}L${X+5},${Y-4.5}L${X},${Y+4.5}Z`:`M${X-5},${Y+4.5}L${X+5},${Y+4.5}L${X},${Y-4.5}Z`;}).attr('fill',fill);
tri(vol,volDown,0,1008,true,'#ff0000');
tri(vol,volUp,0,1005.5,false,'#008000');

/* wRSI pane */
const rsiG=svg.append('g').attr('clip-path','url(#cRsi)');
[80,20].forEach(v=>rsiG.append('line').attr('x1',left).attr('x2',paneRight).attr('y1',yRsi(v)).attr('y2',yRsi(v)).attr('stroke','#6b6b6b').attr('stroke-width',1.4).attr('stroke-dasharray','5 5'));
rsiG.append('line').attr('x1',left).attr('x2',paneRight).attr('y1',yRsi(50)).attr('y2',yRsi(50)).attr('stroke','#787b80').attr('stroke-width',1.5);
poly(rsiG.append('g'),rsiGreen,'rgba(56,142,60,.36)',yRsi);
poly(rsiG.append('g'),rsiPink,'rgba(255,82,72,.33)',yRsi);

/* gradient strokes: colour of each stretch comes from its break list */
function hardGradient(id,stops){
  const g=defs.append('linearGradient').attr('id',id).attr('gradientUnits','userSpaceOnUse').attr('x1',x(0)).attr('x2',x(204)).attr('y1',0).attr('y2',0);
  stops.forEach(([p,c])=>g.append('stop').attr('offset',Math.min(1,Math.max(0,p/204))).attr('stop-color',c));
}
const mainStops=[];let state=true,prev=0;
rsiMainBreaks.concat([204]).forEach(b=>{const c=state?'#ff4d4d':'#3df2f2';mainStops.push([prev,c],[b,c]);prev=b;state=!state;});
hardGradient('gMain',mainStops);
const thinSpans=[...rsiThinOrange.map(s=>[...s,'#f6c48d']),...rsiThinCyan.map(s=>[...s,'#a9f0f2'])].sort((a,b)=>a[0]-b[0]);
const thinStops=[];let cur=0;
thinSpans.forEach(([a,b,c])=>{thinStops.push([cur,'#9cc79c'],[a,'#9cc79c'],[a,c],[b,c]);cur=b;});
thinStops.push([cur,'#9cc79c'],[204,'#9cc79c']);
hardGradient('gThin',thinStops);

const lineR=d3.line().x(d=>x(d[0])).y(d=>yRsi(d[1]));
rsiG.append('path').attr('d',lineR(rsiThin)).attr('fill','none').attr('stroke','url(#gThin)').attr('stroke-width',1.3);
rsiG.append('path').attr('d',d3.line().curve(d3.curveCatmullRom).x(d=>x(d[0])).y(d=>yRsi(d[1]))(rsiMain)).attr('fill','none').attr('stroke','url(#gMain)').attr('stroke-width',3.4);
const rsiTicks=(data,v,c)=>rsiG.append('g').selectAll('line').data(data).join('line').attr('x1',d=>x(d)).attr('x2',d=>x(d)).attr('y1',yRsi(v)-4.5).attr('y2',yRsi(v)+4.5).attr('stroke',c).attr('stroke-width',1.4);
rsiTicks(rsiTickTopGreen,89.5,'#119a11');rsiTicks(rsiTickTopRed,89.5,'#f02020');rsiTicks(rsiTickBottomGreen,9.2,'#119a11');rsiTicks(rsiTickBottomRed,9.2,'#f02020');
tri(rsiG,rsiTriUp,0,1198,false,'#007a00');
tri(rsiG,rsiTriDown,0,1112,true,'#ff0000');
tri(rsiG,rsiTriDownDark,0,1112,true,'#a32a08');

/* CCI pane */
const cciG=svg.append('g');
cciG.append('rect').attr('x',left).attr('width',paneRight-left).attr('y',yCci(100)).attr('height',yCci(-100)-yCci(100)).attr('fill','#f3efe8');
cciG.append('line').attr('x1',left).attr('x2',paneRight).attr('y1',yCci(0)).attr('y2',yCci(0)).attr('stroke','#a9a7a2').attr('stroke-width',1.5);
const lineC=d3.line().x(d=>x(d[0])).y(d=>yCci(d[1]));
cciG.append('path').attr('d',lineC(cciSignal)).attr('fill','none').attr('stroke','#8b0000').attr('stroke-width',2.8);
cciG.append('path').attr('d',lineC(cciGreen)).attr('fill','none').attr('stroke','#0a7d0a').attr('stroke-width',2.2);
cciG.append('path').attr('d',lineC(cciRed)).attr('fill','none').attr('stroke','#f02a2a').attr('stroke-width',2.4);

/* frame and separators */
const fr=svg.append('g');
fr.append('rect').attr('x',left).attr('y',top0).attr('width',frameRight-left).attr('height',frameBottom-top0).attr('fill','none').attr('stroke','#eff0f5').attr('stroke-width',2.6);
[mainBottom,volBottom0,rsiBottom,cciBottom].forEach(v=>fr.append('line').attr('x1',left).attr('x2',frameRight).attr('y1',v).attr('y2',v).attr('stroke',SEP).attr('stroke-width',1.8));
fr.append('line').attr('x1',paneRight).attr('x2',paneRight).attr('y1',top0).attr('y2',frameBottom).attr('stroke',SEP).attr('stroke-width',1.4);

/* date marker lines */
const mk=svg.append('g');
mk.append('line').attr('x1',x(markerLines[0])).attr('x2',x(markerLines[0])).attr('y1',top0).attr('y2',mainBottom).attr('stroke','#a3c3f5').attr('stroke-width',1.2);
mk.append('line').attr('x1',x(markerLines[1])).attr('x2',x(markerLines[1])).attr('y1',top0).attr('y2',cciBottom).attr('stroke','#a3c3f5').attr('stroke-width',1.2);
trends.raise();

/* axes */
function rightAxis(scale,vals,fmt){
  const g=svg.append('g').attr('transform',`translate(${paneRight},0)`).call(d3.axisRight(scale).tickValues(vals).tickFormat(fmt).tickSize(0).tickPadding(13));
  g.select('.domain').remove();
  g.selectAll('text').attr('font-family',AXF).attr('font-size',16.6).attr('fill',INK);
  return g;
}
rightAxis(y,priceTickLabels,d3.format('.8f'));
rightAxis(yVol,[0,4],d=>d?d+'B':'0');
rightAxis(yRsi,[0,50,100],d3.format('.8f'));
rightAxis(yCci,[0,250],d3.format('.8f'));

const timeAxis=svg.append('g').attr('clip-path','url(#cTime)').append('g').attr('transform',`translate(0,${cciBottom})`)
 .call(d3.axisBottom(x).tickValues(timeTickIdx).tickFormat((d,i)=>timeTickText[i]).tickSize(0).tickPadding(13));
timeAxis.select('.domain').remove();
timeAxis.selectAll('text').attr('font-family',AXF).attr('font-size',16.6).attr('fill',INK).attr('font-weight',(d,i)=>/^\d/.test(timeTickText[i])?700:400);

/* date boxes */
[[2326,108.3,'21-11-01'],[2506,107.8,'22-02-21']].forEach(([a,w,t])=>{
  svg.append('rect').attr('x',a).attr('y',cciBottom).attr('width',w).attr('height',35.7).attr('rx',1).attr('fill','#a3c1f3');
  svg.append('text').attr('x',a+w/2).attr('y',cciBottom+20).attr('dy','.35em').attr('text-anchor','middle').attr('font-family',AXF).attr('font-size',16.6).attr('fill',INK).text(t);
});

/* price labels stacked so they never overlap */
const boxH=28.6,fmt8=d3.format('.8f');
const boxes=levelValues.map((v,i)=>({v,h:boxH,fill:i===4?'#ff0000':i===10?'#9a9a9a':'#131722',txt:i===10?'#131722':'#fff',sub:null,natural:y(v)-boxH/2}));
boxes.push({v:lastPrice,h:51.4,fill:'#ef5350',txt:'#fff',sub:'2d 22h',natural:y(lastPrice)-boxH/2,anchor:true});
boxes.sort((a,b)=>b.v-a.v);
const ai=boxes.findIndex(b=>b.anchor);
boxes[ai].top=boxes[ai].natural;
for(let i=ai+1;i<boxes.length;i++)boxes[i].top=Math.max(boxes[i].natural,boxes[i-1].top+boxes[i-1].h);
for(let i=ai-1;i>=0;i--)boxes[i].top=Math.min(boxes[i].natural,boxes[i+1].top-boxes[i].h);
const lab=svg.append('g');
boxes.forEach(b=>{
  lab.append('rect').attr('x',paneRight).attr('y',b.top).attr('width',125).attr('height',b.h).attr('rx',1).attr('fill',b.fill);
  lab.append('text').attr('x',paneRight+13).attr('y',b.top+boxH/2).attr('dy','.36em').attr('font-family',AXF).attr('font-size',16.6).attr('fill',b.txt).attr('stroke',b.txt).attr('stroke-width',.25).text(fmt8(b.v));
  if(b.sub)lab.append('text').attr('x',paneRight+13).attr('y',b.top+boxH/2+23.5).attr('dy','.36em').attr('font-family',AXF).attr('font-size',16.6).attr('fill','#ffd0cd').text(b.sub);
});

/* legends */
function legend(tokens,yy){
  const t=svg.append('g').attr('font-family',LGF).attr('font-size',12);
  t.selectAll('text').data(tokens).join('text').attr('x',d=>d[1]).attr('y',yy).attr('dy','.36em').attr('fill',d=>d[2]).text(d=>d[0]);
}
svg.append('text').attr('x',10).attr('y',15).attr('dy','.36em').attr('font-family',LGF).attr('font-size',12).attr('fill',INK).text(headerText);
legend(mainLegend,42);legend(bandLegend,59);legend(volLegend,1001);legend(rsiLegend,1101.7);legend(cciLegend,1237.7);

/* footer logo */
const logo=svg.append('g').attr('fill',INK);
logo.append('path').attr('d','M11,1387.5h8v8.5h-4v-5h-4zM20,1396l4-8.5h5l-4,8.5z');
logo.append('circle').attr('cx',21.5).attr('cy',1389.5).attr('r',1.8);
svg.append('text').attr('x',33).attr('y',1392).attr('dy','.36em').attr('font-family',LGF).attr('font-size',13).attr('fill',INK).text('TradingView');
</script></body></html>
